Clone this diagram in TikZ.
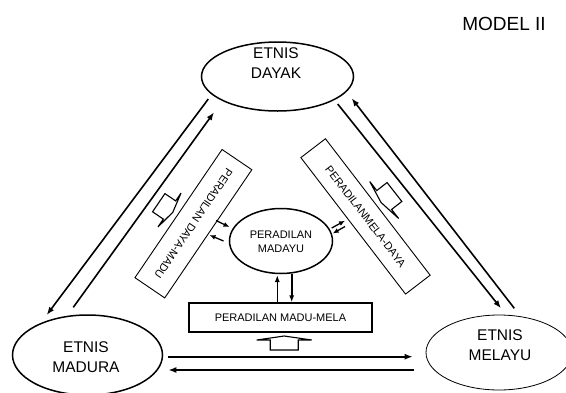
\documentclass[tikz,border=0pt]{standalone}
\usepackage{fontspec}
\setmainfont{Liberation Sans}
\usetikzlibrary{shapes.geometric,arrows.meta}
\newcommand\hollowarr[6]{%
  \begin{scope}[shift={(#1,#2)},rotate=#3]
    \draw[blk] (-#5/2,#6) -- (-#5/2,0) -- (-#4/2,0) -- (0,-4) -- (#4/2,0) -- (#5/2,0) -- (#5/2,#6) -- cycle;
  \end{scope}}
\begin{document}
\begin{tikzpicture}[x=1pt,y=-1pt,
  ell/.style={ellipse,draw,line width=1.5pt,inner sep=0pt},
  big/.style={font=\fontsize{15.5}{19.5}\selectfont,align=center,inner sep=0pt},
  small/.style={font=\fontsize{11}{14}\selectfont,align=center,inner sep=0pt},
  conn/.style={line width=1.6pt,-{Latex[length=8pt,width=6pt]}},
  tinyarr/.style={line width=1.3pt,-{Latex[length=6pt,width=5pt]}},
  box/.style={draw,inner sep=0pt,line width=0.9pt,font=\fontsize{11}{14}\selectfont},
  blk/.style={draw,line width=1.1pt,fill=white,line join=miter}
]
\useasboundingbox (0,0) rectangle (566,392);

% title
\node[font=\fontsize{19}{22}\selectfont,inner sep=0pt] (title) at (504,24) {MODEL II};

% ellipses
\node[ell,minimum width=152pt,minimum height=69pt] (dayak) at (277.5,76.5) {};
\node[big] (dayakt) at (276,63) {ETNIS\\DAYAK};
\node[ell,minimum width=150pt,minimum height=80pt] (madura) at (87.5,355) {};
\node[big] (madurat) at (86,357) {ETNIS\\MADURA};
\node[ell,line width=0.8pt,minimum width=146pt,minimum height=75pt] (melayu) at (499,352.5) {};
\node[big] (melayut) at (500,345) {ETNIS\\MELAYU};
\node[ell,minimum width=103pt,minimum height=65pt] (madayu) at (281,241) {};
\node[small] (madayut) at (281,242) {PERADILAN\\MADAYU};

% boxes
\node[box,line width=1.2pt,minimum width=183pt,minimum height=29pt] (mm) at (280.5,317.5) {PERADILAN MADU-MELA};
\node[box,minimum width=155pt,minimum height=36pt,rotate=-124.2] (dm) at (193.4,223.7) {PERADILAN DAYA-MADU};
\node[box,minimum width=172pt,minimum height=31pt,rotate=-52.5] (md) at (365.5,216.4) {PERADILANMELA-DAYA};

% hollow block arrows
\hollowarr{284.2}{340}{0}{55}{28}{10}
\hollowarr{169.5}{210}{-124.2}{41}{22}{13}
\hollowarr{384.2}{200}{128}{47}{24}{13}

% connector end points
\coordinate (l1s) at (208.3,99);   \coordinate (l1e) at (46.7,315);
\coordinate (l2s) at (73.3,307.3); \coordinate (l2e) at (214,112.3);
\coordinate (r1s) at (337.7,104);  \coordinate (r1e) at (501,308.3);
\coordinate (r2s) at (514.3,308.3);\coordinate (r2e) at (351.7,98.3);
\coordinate (b1s) at (168.3,356.7);\coordinate (b1e) at (412.7,356.7);
\coordinate (b2s) at (413.7,370);  \coordinate (b2e) at (168.3,370);
\coordinate (v1e) at (277.3,275);
\coordinate (v2s) at (291.7,273.5);

% main connectors
\draw[conn] (l1s) -- (l1e);
\draw[conn] (l2s) -- (l2e);
\draw[conn] (r1s) -- (r1e);
\draw[conn] (r2s) -- (r2e);
\draw[conn] (b1s) -- (b1e);
\draw[conn] (b2s) -- (b2e);
\draw[conn,-{Latex[length=7pt,width=5pt]}] (v1e |- mm.north) -- (v1e);
\draw[conn,-{Latex[length=7pt,width=5pt]}] (v2s) -- (v2s |- mm.north);

% small arrows near MADAYU
\coordinate (a1s) at (216,220.5);   \coordinate (a1e) at (229.5,227);
\coordinate (a2s) at (223.5,241);   \coordinate (a2e) at (209.5,235);
\coordinate (a3s) at (331.7,228);   \coordinate (a3e) at (345,220.7);
\coordinate (a4s) at (345,226.5);   \coordinate (a4e) at (332.7,233.5);
\draw[tinyarr] (a1s) -- (a1e);
\draw[tinyarr] (a2s) -- (a2e);
\draw[tinyarr] (a3s) -- (a3e);
\draw[tinyarr] (a4s) -- (a4e);
\end{tikzpicture}
\end{document}
